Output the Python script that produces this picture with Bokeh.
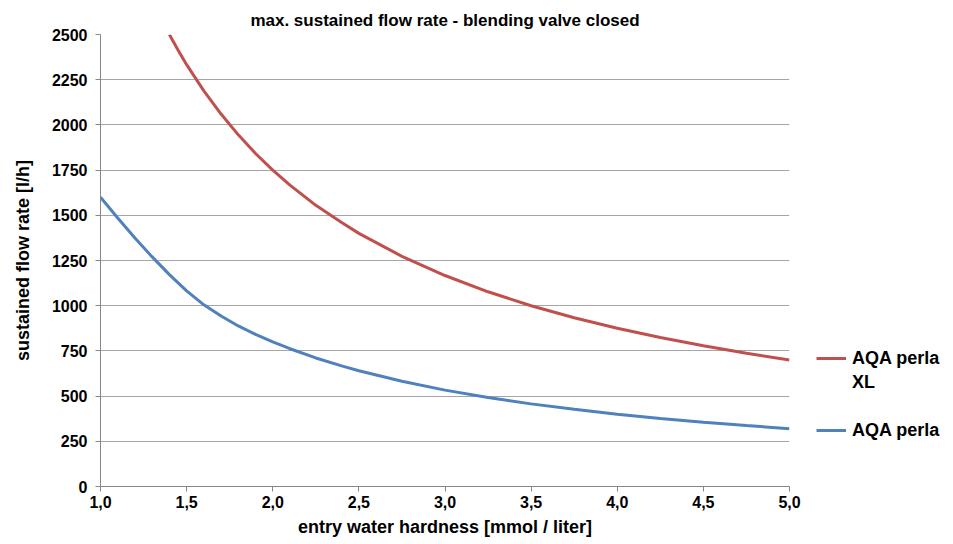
from bokeh.plotting import figure
from bokeh.models import FixedTicker, Legend, LegendItem, Range1d
from bokeh.embed import file_html
from bokeh.resources import INLINE

# data
hardness_xl = [1.4, 1.45, 1.5, 1.6, 1.7, 1.8, 1.9, 2.0, 2.1, 2.25, 2.4, 2.5, 2.75, 3.0, 3.25, 3.5, 3.75, 4.0, 4.25, 4.5, 4.75, 5.0]
flow_xl = [2500, 2414, 2333, 2188, 2060, 1945, 1842, 1750, 1667, 1555, 1460, 1400, 1273, 1167, 1077, 1000, 933, 875, 824, 778, 737, 700]
hardness_std = [1.0, 1.1, 1.2, 1.3, 1.4, 1.5, 1.6, 1.7, 1.8, 1.9, 2.0, 2.1, 2.25, 2.4, 2.5, 2.75, 3.0, 3.25, 3.5, 3.75, 4.0, 4.25, 4.5, 4.75, 5.0]
flow_std = [1600, 1485, 1375, 1270, 1172, 1082, 1005, 943, 888, 841, 800, 762, 711, 667, 640, 582, 533, 492, 457, 427, 400, 376, 356, 337, 320]
x_ticks = [1.0, 1.5, 2.0, 2.5, 3.0, 3.5, 4.0, 4.5, 5.0]
x_tick_labels = ["1,0", "1,5", "2,0", "2,5", "3,0", "3,5", "4,0", "4,5", "5,0"]
y_ticks = [0, 250, 500, 750, 1000, 1250, 1500, 1750, 2000, 2250, 2500]
series_names = ["AQA perla XL", "AQA perla"]

FONT = "Liberation Sans"

p = figure(width=945, height=536, output_backend="svg", toolbar_location=None,
           x_range=Range1d(1.0, 5.0), y_range=Range1d(0, 2500),
           title="max. sustained flow rate - blending valve closed")
p.min_border_left = 100
p.min_border_right = 156
p.min_border_top = 34
p.min_border_bottom = 50
p.frame_width = 689
p.frame_height = 452
p.outline_line_color = None

p.title.text_font = FONT
p.title.text_font_size = "17px"
p.title.text_font_style = "bold"
p.title.text_color = "black"
p.title.align = "center"
p.title.standoff = 9

r_xl = p.line(hardness_xl, flow_xl, line_color="#C0504D", line_width=3)
r_std = p.line(hardness_std, flow_std, line_color="#4F81BD", line_width=3)
# invisible renderer used only to carry the wrapped second line of the legend label
r_blank = p.line([], [], line_alpha=0)

p.xaxis.ticker = FixedTicker(ticks=x_ticks)
p.xaxis.major_label_overrides = {t: l for t, l in zip(x_ticks, x_tick_labels)}
p.yaxis.ticker = FixedTicker(ticks=y_ticks)

for ax in (p.xaxis[0], p.yaxis[0]):
    ax.axis_line_color = "#868686"
    ax.major_tick_line_color = "#868686"
    ax.major_tick_in = 0
    ax.major_tick_out = 5
    ax.minor_tick_line_color = None
    ax.major_label_text_font = FONT
    ax.major_label_text_font_size = "16px"
    ax.major_label_text_font_style = "bold"
    ax.major_label_text_color = "black"
    ax.axis_label_text_font = FONT
    ax.axis_label_text_font_size = "18px"
    ax.axis_label_text_font_style = "bold"
    ax.axis_label_text_color = "black"

p.xaxis.axis_label = "entry water hardness [mmol / liter]"
p.yaxis.axis_label = "sustained flow rate [l/h]"
p.xaxis.major_label_standoff = 4
p.xaxis.axis_label_standoff = 6
p.yaxis.major_label_standoff = 8
p.yaxis.axis_label_standoff = 16

p.xgrid.grid_line_color = None
p.ygrid.grid_line_color = "#A6A6A6"
p.ygrid.grid_line_width = 1

xl_first, xl_second = series_names[0].rsplit(" ", 1)
legend = Legend(items=[LegendItem(label=xl_first, renderers=[r_xl]),
                       LegendItem(label=xl_second, renderers=[r_blank]),
                       LegendItem(label=" ", renderers=[r_blank]),
                       LegendItem(label=series_names[1], renderers=[r_std])],
                location=(27, 44))
legend.label_text_font = FONT
legend.label_text_font_size = "18px"
legend.label_text_font_style = "bold"
legend.label_text_color = "black"
legend.border_line_color = None
legend.background_fill_alpha = 0
legend.glyph_width = 30
legend.glyph_height = 24
legend.label_height = 24
legend.spacing = 0
legend.label_standoff = 6
legend.padding = 0
legend.margin = 0
p.add_layout(legend, "right")

open("out.html", "w").write(file_html(p, INLINE))
